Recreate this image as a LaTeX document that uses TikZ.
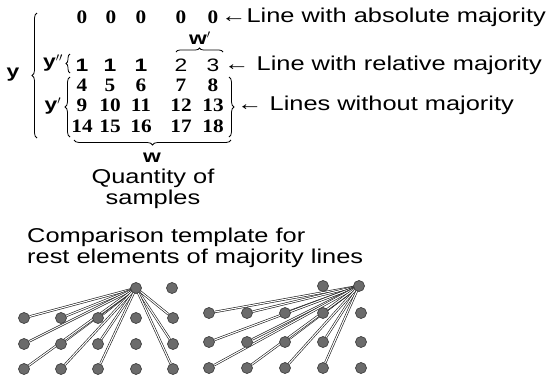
\documentclass[tikz,border=0pt]{standalone}
\usepackage{fontspec}
\setmainfont{Liberation Sans}[FakeStretch=1.27]
\newfontfamily\numfont{Liberation Serif}[FakeStretch=1.12]
\usetikzlibrary{decorations.pathreplacing, backgrounds}

\begin{document}
\begin{tikzpicture}[x=1pt,y=-1pt,
  txt/.style={font=\fontsize{20}{21}\selectfont, inner sep=0pt},
  num/.style={font=\numfont\bfseries\fontsize{19}{19}\selectfont, inner sep=0pt},
  numsans/.style={font=\fontsize{18}{18}\selectfont, inner sep=0pt},
  var/.style={font=\bfseries\fontsize{18}{18}\selectfont, inner sep=0pt},
  brc/.style={decorate, decoration={brace, amplitude=5pt}, line width=0.8pt},
  dot/.style={circle, fill=black!58, draw=black!75, line width=0.7pt, minimum size=11pt, inner sep=0pt},
  tie/.style={draw=black!90, line width=0.6pt, double=white, double distance=1.1pt}]
  \path[use as bounding box] (0,0) rectangle (554,378);

  % number table
  \foreach \x [count=\c] in {82,111,141,181,213}
    \node[num] (r0c\c) at (\x,17) {0};
  \foreach \x/\v [count=\c] in {82/1,110/1,141/1}
    \node[numsans, font=\bfseries\fontsize{18}{18}\selectfont] (r1c\c) at (\x,65) {\v};
  \node[numsans] (r1c4) at (181,65) {2};
  \node[numsans] (r1c5) at (213,65) {3};
  \foreach \x/\v [count=\c] in {82/4,110/5,141/6,181/7,213/8}
    \node[num] (r2c\c) at (\x,85) {\v};
  \foreach \x/\v [count=\c] in {82/9,110/10,141/11,181/12,213/13}
    \node[num] (r3c\c) at (\x,105) {\v};
  \foreach \x/\v [count=\c] in {82/14,110/15,141/16,181/17,213/18}
    \node[num] (r4c\c) at (\x,126) {\v};

  % braces and their names
  \draw[brc] (37,138) -- (37,13);
  \node[var] (ybig) at (13,75) {y};
  \draw[brc, decoration={amplitude=4pt}] (70,73) -- (70,54);
  \node[var] (ytwo) at (53,63) {y$''$};
  \draw[brc] (70,137) -- (70,77);
  \node[var] (yone) at (53,106) {y$'$};
  \draw[brc] (229,77) -- (229,137);
  \draw[brc, decoration={amplitude=4pt}] (176,52) -- (223,52);
  \node[var] (wone) at (200,38) {w$'$};
  \draw[brc] (231,140) -- (74,140);
  \node[var] (wall) at (152,158) {w};

  % captions
  \node[txt, anchor=west] (absline) at (221,17) {←Line with absolute majority};
  \node[txt, anchor=west] (relline) at (224,65) {← Line with relative majority};
  \node[txt, anchor=west] (noline) at (237,105) {← Lines without majority};
  \node[txt, align=center] (qty) at (153,189) {Quantity of\\samples};
  \node[txt, align=left, anchor=west] (tmpl) at (27,248) {Comparison template for\\rest elements of majority lines};

  % left template
  \node[dot] (Ltop) at (136,288) {};
  \node[dot] (Ltop2) at (172,288) {};
  \foreach \x [count=\c] in {24,61,98,136,173}
    \foreach \y [count=\r] in {318,344,369}
      \node[dot] (L\r\c) at (\x,\y) {};
  \begin{scope}[on background layer]
    \foreach \r in {1,2,3}
      \foreach \c in {1,2,3,5}
        \draw[tie] (Ltop.center) -- (L\r\c);
  \end{scope}

  % right template
  \node[dot] (Rtop) at (323,286) {};
  \node[dot] (Rtop2) at (359,286) {};
  \foreach \x [count=\c] in {209,247,285,323,361}
    \foreach \y [count=\r] in {313,342,368}
      \node[dot] (R\r\c) at (\x,\y) {};
  \begin{scope}[on background layer]
    \foreach \r in {1,2,3}
      \foreach \c in {1,2,3,4}
        \draw[tie] (Rtop2.center) -- (R\r\c);
  \end{scope}
\end{tikzpicture}
\end{document}
